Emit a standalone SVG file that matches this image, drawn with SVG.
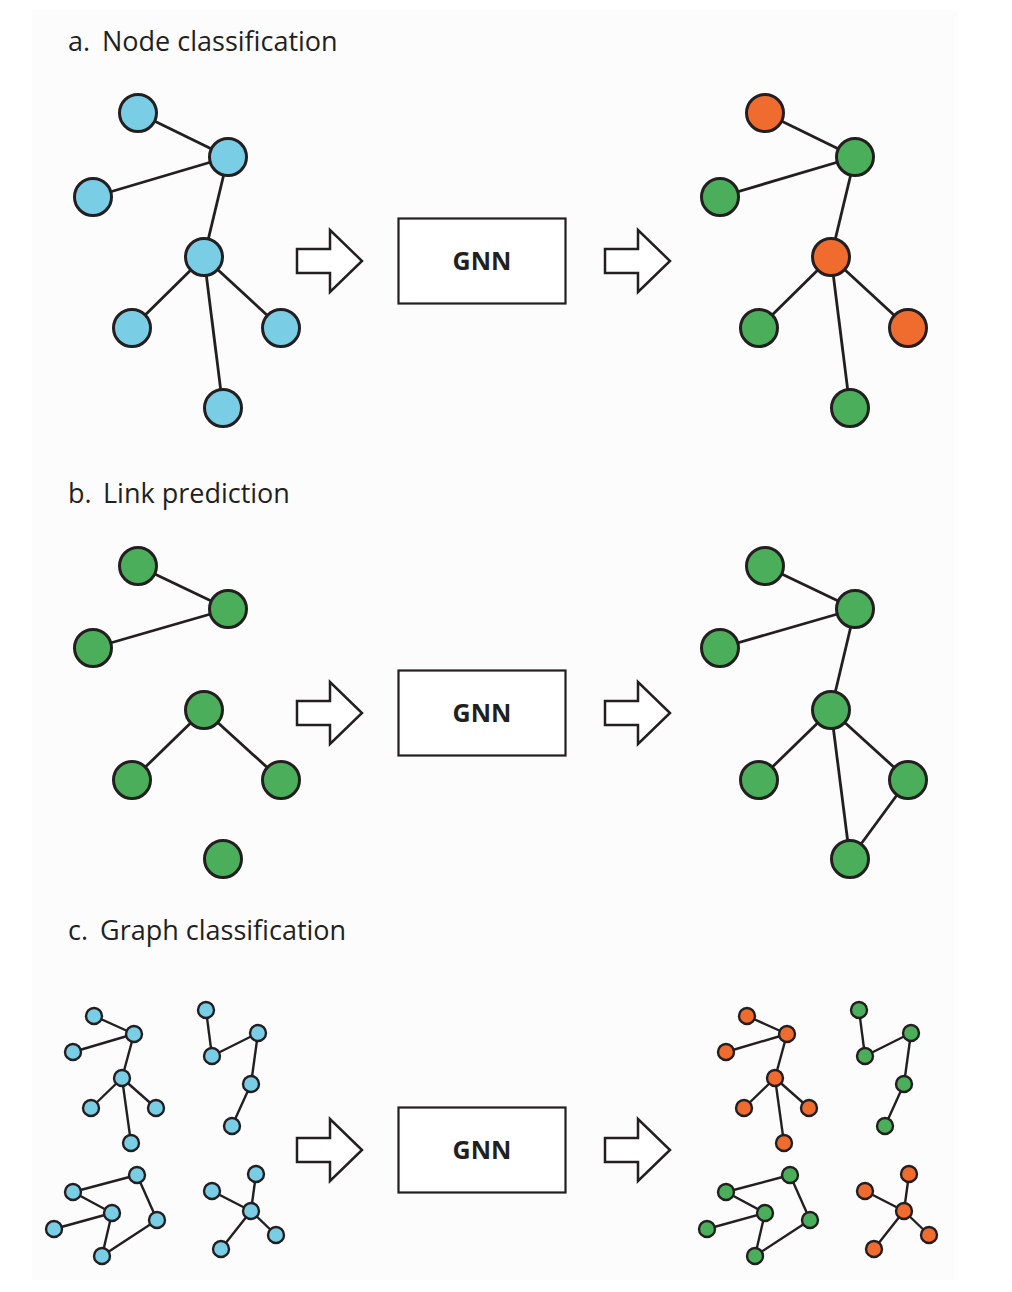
<svg xmlns="http://www.w3.org/2000/svg" width="1012" height="1292" viewBox="0 0 1012 1292">
<style>
.title{font-family:"Open Sans","Liberation Sans",sans-serif;font-size:27px;fill:#231f20}
.gnn{font-family:"Open Sans","Liberation Sans",sans-serif;font-size:25px;font-weight:bold;fill:#231f20}
.box{fill:#ffffff;stroke:#231f20;stroke-width:2.2}
.e{stroke:#231f20;stroke-width:2.8;fill:none}
.es{stroke:#231f20;stroke-width:2.4;fill:none}
.big{stroke:#231f20;stroke-width:3}
.sm{stroke:#231f20;stroke-width:2.4}
.b{fill:#79cde4}
.g{fill:#4aae5a}
.o{fill:#ef6b2e}
.arrow{fill:#ffffff;stroke:#231f20;stroke-width:2.5;stroke-linejoin:miter}
</style>
<defs>
<path id="blockArrow" d="M0,-12 H33 V-31 L65,0 L33,31 V12 H0 Z"/>
</defs>
<rect x="32" y="10" width="926" height="1270" fill="#fcfcfc"/>

<text class="title" x="68" y="51">a.<tspan x="102">Node classification</tspan></text>
<text class="title" x="68" y="503">b.<tspan x="103">Link prediction</tspan></text>
<text class="title" x="68" y="940">c.<tspan x="100">Graph classification</tspan></text>

<g id="connectors">
<!-- section a left -->
<line class="e" x1="138" y1="113" x2="228" y2="157"/>
<line class="e" x1="93" y1="197" x2="228" y2="157"/>
<line class="e" x1="228" y1="157" x2="204" y2="257"/>
<line class="e" x1="204" y1="257" x2="132" y2="328"/>
<line class="e" x1="204" y1="257" x2="281" y2="328"/>
<line class="e" x1="204" y1="257" x2="223" y2="408"/>
<!-- section a right -->
<line class="e" x1="765" y1="113" x2="855" y2="157"/>
<line class="e" x1="720" y1="197" x2="855" y2="157"/>
<line class="e" x1="855" y1="157" x2="831" y2="257"/>
<line class="e" x1="831" y1="257" x2="759" y2="328"/>
<line class="e" x1="831" y1="257" x2="908" y2="328"/>
<line class="e" x1="831" y1="257" x2="850" y2="408"/>
<!-- section b left -->
<line class="e" x1="138" y1="566" x2="228" y2="609"/>
<line class="e" x1="93" y1="648" x2="228" y2="609"/>
<line class="e" x1="204" y1="710" x2="132" y2="780"/>
<line class="e" x1="204" y1="710" x2="281" y2="780"/>
<!-- section b right -->
<line class="e" x1="765" y1="566" x2="855" y2="609"/>
<line class="e" x1="720" y1="648" x2="855" y2="609"/>
<line class="e" x1="855" y1="609" x2="831" y2="710"/>
<line class="e" x1="831" y1="710" x2="759" y2="780"/>
<line class="e" x1="831" y1="710" x2="908" y2="780"/>
<line class="e" x1="831" y1="710" x2="850" y2="859"/>
<line class="e" x1="908" y1="780" x2="850" y2="859"/>
<!-- section c left -->
<g id="c-left-edges">
<line class="es" x1="94" y1="1016" x2="134" y2="1034"/>
<line class="es" x1="73" y1="1052" x2="134" y2="1034"/>
<line class="es" x1="134" y1="1034" x2="122" y2="1078"/>
<line class="es" x1="122" y1="1078" x2="91" y2="1108"/>
<line class="es" x1="122" y1="1078" x2="156" y2="1108"/>
<line class="es" x1="122" y1="1078" x2="131" y2="1143"/>
<line class="es" x1="206" y1="1010" x2="212" y2="1056"/>
<line class="es" x1="212" y1="1056" x2="258" y2="1033"/>
<line class="es" x1="258" y1="1033" x2="251" y2="1084"/>
<line class="es" x1="251" y1="1084" x2="232" y2="1126"/>
<line class="es" x1="73" y1="1192" x2="137" y2="1175"/>
<line class="es" x1="73" y1="1192" x2="112" y2="1213"/>
<line class="es" x1="54" y1="1229" x2="112" y2="1213"/>
<line class="es" x1="112" y1="1213" x2="102" y2="1256"/>
<line class="es" x1="137" y1="1175" x2="157" y2="1220"/>
<line class="es" x1="157" y1="1220" x2="102" y2="1256"/>
<line class="es" x1="256" y1="1174" x2="251" y2="1211"/>
<line class="es" x1="212" y1="1191" x2="251" y2="1211"/>
<line class="es" x1="251" y1="1211" x2="276" y2="1235"/>
<line class="es" x1="251" y1="1211" x2="221" y2="1249"/>
</g>
<use href="#c-left-edges" x="653" y="0"/>
<!-- block arrows -->
<use href="#blockArrow" class="arrow" x="297" y="261"/>
<use href="#blockArrow" class="arrow" x="605" y="261"/>
<use href="#blockArrow" class="arrow" x="297" y="713"/>
<use href="#blockArrow" class="arrow" x="605" y="713"/>
<use href="#blockArrow" class="arrow" x="297" y="1150"/>
<use href="#blockArrow" class="arrow" x="605" y="1150"/>
</g>

<!-- GNN boxes -->
<g id="gnn-a"><rect class="box" x="398.5" y="218.5" width="167" height="85"/><text class="gnn" x="482" y="270" text-anchor="middle">GNN</text></g>
<g id="gnn-b"><rect class="box" x="398.5" y="670.5" width="167" height="85"/><text class="gnn" x="482" y="722" text-anchor="middle">GNN</text></g>
<g id="gnn-c"><rect class="box" x="398.5" y="1107.5" width="167" height="85"/><text class="gnn" x="482" y="1159" text-anchor="middle">GNN</text></g>

<!-- section a left nodes -->
<g id="a-l-1"><circle class="big b" cx="138" cy="113" r="18.5"/></g>
<g id="a-l-2"><circle class="big b" cx="228" cy="157" r="18.5"/></g>
<g id="a-l-3"><circle class="big b" cx="93" cy="197" r="18.5"/></g>
<g id="a-l-4"><circle class="big b" cx="204" cy="257" r="18.5"/></g>
<g id="a-l-5"><circle class="big b" cx="132" cy="328" r="18.5"/></g>
<g id="a-l-6"><circle class="big b" cx="281" cy="328" r="18.5"/></g>
<g id="a-l-7"><circle class="big b" cx="223" cy="408" r="18.5"/></g>
<!-- section a right nodes -->
<g id="a-r-1"><circle class="big o" cx="765" cy="113" r="18.5"/></g>
<g id="a-r-2"><circle class="big g" cx="855" cy="157" r="18.5"/></g>
<g id="a-r-3"><circle class="big g" cx="720" cy="197" r="18.5"/></g>
<g id="a-r-4"><circle class="big o" cx="831" cy="257" r="18.5"/></g>
<g id="a-r-5"><circle class="big g" cx="759" cy="328" r="18.5"/></g>
<g id="a-r-6"><circle class="big o" cx="908" cy="328" r="18.5"/></g>
<g id="a-r-7"><circle class="big g" cx="850" cy="408" r="18.5"/></g>
<!-- section b left nodes -->
<g id="b-l-1"><circle class="big g" cx="138" cy="566" r="18.5"/></g>
<g id="b-l-2"><circle class="big g" cx="228" cy="609" r="18.5"/></g>
<g id="b-l-3"><circle class="big g" cx="93" cy="648" r="18.5"/></g>
<g id="b-l-4"><circle class="big g" cx="204" cy="710" r="18.5"/></g>
<g id="b-l-5"><circle class="big g" cx="132" cy="780" r="18.5"/></g>
<g id="b-l-6"><circle class="big g" cx="281" cy="780" r="18.5"/></g>
<g id="b-l-7"><circle class="big g" cx="223" cy="859" r="18.5"/></g>
<!-- section b right nodes -->
<g id="b-r-1"><circle class="big g" cx="765" cy="566" r="18.5"/></g>
<g id="b-r-2"><circle class="big g" cx="855" cy="609" r="18.5"/></g>
<g id="b-r-3"><circle class="big g" cx="720" cy="648" r="18.5"/></g>
<g id="b-r-4"><circle class="big g" cx="831" cy="710" r="18.5"/></g>
<g id="b-r-5"><circle class="big g" cx="759" cy="780" r="18.5"/></g>
<g id="b-r-6"><circle class="big g" cx="908" cy="780" r="18.5"/></g>
<g id="b-r-7"><circle class="big g" cx="850" cy="859" r="18.5"/></g>

<!-- section c left small graphs -->
<g id="c-l-A1"><circle class="sm b" cx="94" cy="1016" r="8"/></g>
<g id="c-l-A2"><circle class="sm b" cx="134" cy="1034" r="8"/></g>
<g id="c-l-A3"><circle class="sm b" cx="73" cy="1052" r="8"/></g>
<g id="c-l-A4"><circle class="sm b" cx="122" cy="1078" r="8"/></g>
<g id="c-l-A5"><circle class="sm b" cx="91" cy="1108" r="8"/></g>
<g id="c-l-A6"><circle class="sm b" cx="156" cy="1108" r="8"/></g>
<g id="c-l-A7"><circle class="sm b" cx="131" cy="1143" r="8"/></g>
<g id="c-l-B1"><circle class="sm b" cx="206" cy="1010" r="8"/></g>
<g id="c-l-B2"><circle class="sm b" cx="258" cy="1033" r="8"/></g>
<g id="c-l-B3"><circle class="sm b" cx="212" cy="1056" r="8"/></g>
<g id="c-l-B4"><circle class="sm b" cx="251" cy="1084" r="8"/></g>
<g id="c-l-B5"><circle class="sm b" cx="232" cy="1126" r="8"/></g>
<g id="c-l-C1"><circle class="sm b" cx="137" cy="1175" r="8"/></g>
<g id="c-l-C2"><circle class="sm b" cx="73" cy="1192" r="8"/></g>
<g id="c-l-C3"><circle class="sm b" cx="112" cy="1213" r="8"/></g>
<g id="c-l-C4"><circle class="sm b" cx="54" cy="1229" r="8"/></g>
<g id="c-l-C5"><circle class="sm b" cx="157" cy="1220" r="8"/></g>
<g id="c-l-C6"><circle class="sm b" cx="102" cy="1256" r="8"/></g>
<g id="c-l-D1"><circle class="sm b" cx="256" cy="1174" r="8"/></g>
<g id="c-l-D2"><circle class="sm b" cx="212" cy="1191" r="8"/></g>
<g id="c-l-D3"><circle class="sm b" cx="251" cy="1211" r="8"/></g>
<g id="c-l-D4"><circle class="sm b" cx="276" cy="1235" r="8"/></g>
<g id="c-l-D5"><circle class="sm b" cx="221" cy="1249" r="8"/></g>

<!-- section c right small graphs (x + 653) -->
<g id="c-r-A1"><circle class="sm o" cx="747" cy="1016" r="8"/></g>
<g id="c-r-A2"><circle class="sm o" cx="787" cy="1034" r="8"/></g>
<g id="c-r-A3"><circle class="sm o" cx="726" cy="1052" r="8"/></g>
<g id="c-r-A4"><circle class="sm o" cx="775" cy="1078" r="8"/></g>
<g id="c-r-A5"><circle class="sm o" cx="744" cy="1108" r="8"/></g>
<g id="c-r-A6"><circle class="sm o" cx="809" cy="1108" r="8"/></g>
<g id="c-r-A7"><circle class="sm o" cx="784" cy="1143" r="8"/></g>
<g id="c-r-B1"><circle class="sm g" cx="859" cy="1010" r="8"/></g>
<g id="c-r-B2"><circle class="sm g" cx="911" cy="1033" r="8"/></g>
<g id="c-r-B3"><circle class="sm g" cx="865" cy="1056" r="8"/></g>
<g id="c-r-B4"><circle class="sm g" cx="904" cy="1084" r="8"/></g>
<g id="c-r-B5"><circle class="sm g" cx="885" cy="1126" r="8"/></g>
<g id="c-r-C1"><circle class="sm g" cx="790" cy="1175" r="8"/></g>
<g id="c-r-C2"><circle class="sm g" cx="726" cy="1192" r="8"/></g>
<g id="c-r-C3"><circle class="sm g" cx="765" cy="1213" r="8"/></g>
<g id="c-r-C4"><circle class="sm g" cx="707" cy="1229" r="8"/></g>
<g id="c-r-C5"><circle class="sm g" cx="810" cy="1220" r="8"/></g>
<g id="c-r-C6"><circle class="sm g" cx="755" cy="1256" r="8"/></g>
<g id="c-r-D1"><circle class="sm o" cx="909" cy="1174" r="8"/></g>
<g id="c-r-D2"><circle class="sm o" cx="865" cy="1191" r="8"/></g>
<g id="c-r-D3"><circle class="sm o" cx="904" cy="1211" r="8"/></g>
<g id="c-r-D4"><circle class="sm o" cx="929" cy="1235" r="8"/></g>
<g id="c-r-D5"><circle class="sm o" cx="874" cy="1249" r="8"/></g>
</svg>
